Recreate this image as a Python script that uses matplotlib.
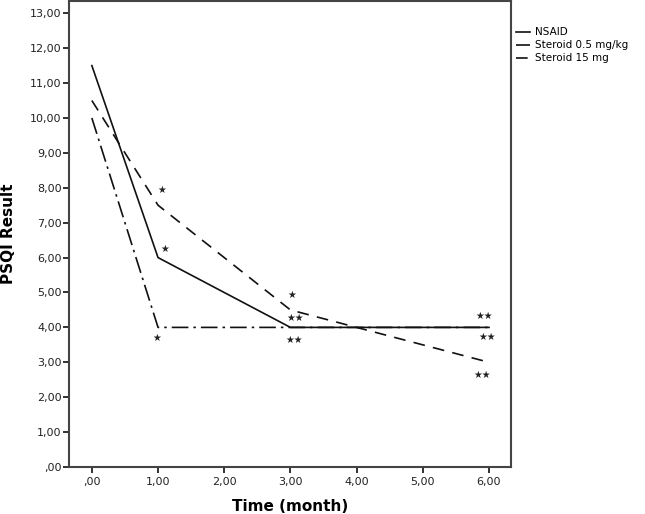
import matplotlib
matplotlib.use("Agg")
import matplotlib.pyplot as plt
from matplotlib.ticker import FuncFormatter

months = [0, 1, 3, 6]
nsaid = [11.5, 6.0, 4.0, 4.0]
steroid_05 = [10.0, 4.0, 4.0, 4.0]
steroid_15 = [10.5, 7.5, 4.5, 3.0]

# significance marks (x, y, text)
star_x = [1.06, 1.10, 0.98, 3.02, 3.07, 3.05, 5.92, 5.97, 5.90]
star_y = [7.95, 6.25, 3.70, 4.94, 4.28, 3.63, 4.34, 3.74, 2.63]
star_txt = ["★", "★", "★", "★", "★★", "★★", "★★", "★★", "★★"]

x_ticks = [0, 1, 2, 3, 4, 5, 6]
y_ticks = list(range(0, 14))


def comma_fmt(v, pos):
    s = f"{v:.2f}".replace(".", ",")
    return s[1:] if s.startswith("0,") else s


fig = plt.figure(figsize=(6.45, 5.14), dpi=100)
ax = fig.add_axes([0.1075, 0.0914, 0.6845, 0.9066])

ax.plot(months, nsaid, color="#111111", lw=1.2, label="NSAID")
ax.plot(months, steroid_05, color="#111111", lw=1.2, dashes=(10, 3, 1.5, 3),
        label="Steroid 0.5 mg/kg")
ax.plot(months, steroid_15, color="#111111", lw=1.2, dashes=(7, 5),
        label="Steroid 15 mg")

for x, y, t in zip(star_x, star_y, star_txt):
    ax.text(x, y, t, fontsize=7, ha="center", va="center", color="#222222")

ax.set_xlim(-0.34, 6.33)
ax.set_ylim(0, 13.35)
ax.set_xticks(x_ticks)
ax.set_yticks(y_ticks)
ax.xaxis.set_major_formatter(FuncFormatter(comma_fmt))
ax.yaxis.set_major_formatter(FuncFormatter(comma_fmt))
ax.tick_params(axis="both", labelsize=8, colors="#222222", width=1.3,
               length=4.5, direction="out")
ax.tick_params(axis="y", pad=1)
ax.tick_params(axis="x", pad=3)
for s in ax.spines.values():
    s.set_color("#444444")
    s.set_linewidth(1.5)

ax.set_xlabel("Time (month)", fontsize=11, fontweight="bold", labelpad=8)
ax.set_ylabel("PSQI Result", fontsize=11, fontweight="bold", labelpad=10)

ax.legend(loc="upper left", bbox_to_anchor=(1.0, 0.955), frameon=False,
          fontsize=7.5, handlelength=1.3, handletextpad=0.5,
          labelspacing=0.3, borderaxespad=0.1)

fig.savefig("out.png", dpi=100)
